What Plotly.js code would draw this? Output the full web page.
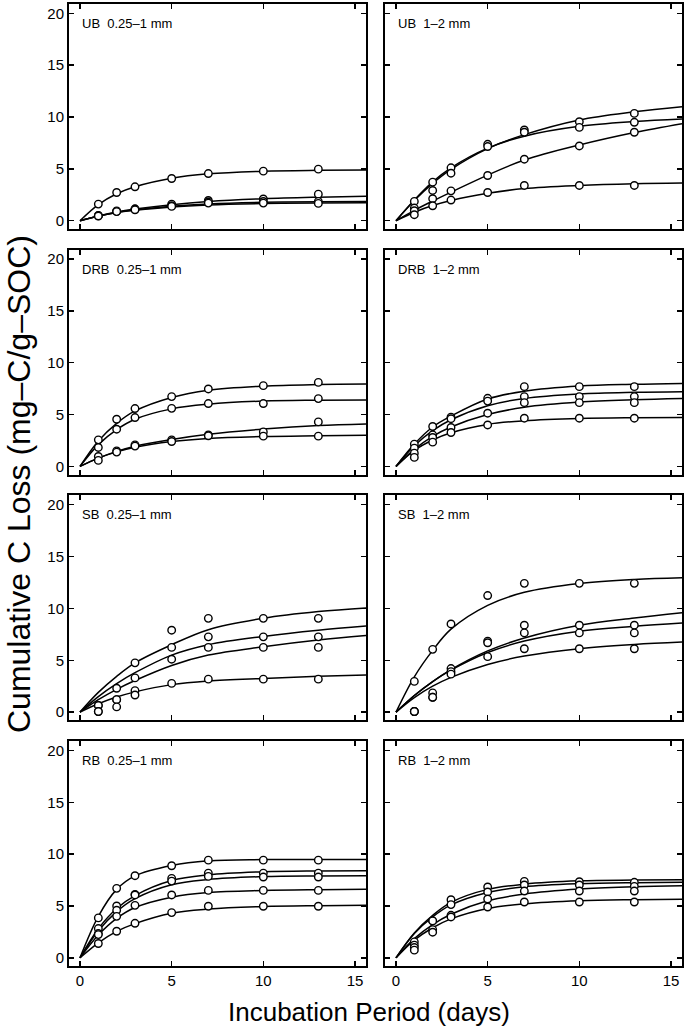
<!DOCTYPE html>
<html>
<head>
<meta charset="utf-8">
<script src="https://cdn.plot.ly/plotly-3.0.1.min.js"></script>
<style>html,body{margin:0;padding:0;background:#fff;}#chart{width:686px;height:1029px;}</style>
</head>
<body>
<div id="chart"></div>
<script>
// Sampling days of the measured points
const days = [1, 2, 3, 5, 7, 10, 13];
const fitDays = [0, 1, 2, 3, 5, 7, 10, 13, 15.6];

const xTicks = [0, 5, 10, 15];
const xTickText = ['0', '5', '10', '15'];
const yTicks = [0, 5, 10, 15, 20];
const yTickText = ['0', '5', '10', '15', '20'];

const panelLabels = [
  'UB\u00a0\u00a00.25\u20131 mm', 'UB\u00a0\u00a01\u20132 mm',
  'DRB\u00a0\u00a00.25\u20131 mm', 'DRB\u00a0\u00a01\u20132 mm',
  'SB\u00a0\u00a00.25\u20131 mm', 'SB\u00a0\u00a01\u20132 mm',
  'RB\u00a0\u00a00.25\u20131 mm', 'RB\u00a0\u00a01\u20132 mm'
];

// ---- UB 0.25–1 mm ----
const ub025Points = [
  [1.6, 2.72, 3.27, 4.07, 4.55, 4.78, 4.97],
  [0.5, 0.95, 1.15, 1.6, 1.95, 2.1, 2.56],
  [0.48, 0.9, 1.1, 1.45, 1.8, 1.85, 1.86],
  [0.45, 0.88, 1.05, 1.38, 1.7, 1.7, 1.67]
];
const ub025Fit = [
  [0, 1.55, 2.6, 3.28, 4.1, 4.52, 4.78, 4.86, 4.88],
  [0, 0.46, 0.84, 1.12, 1.55, 1.85, 2.12, 2.27, 2.36],
  [0, 0.44, 0.8, 1.05, 1.4, 1.62, 1.78, 1.84, 1.86],
  [0, 0.43, 0.78, 1.0, 1.33, 1.52, 1.65, 1.7, 1.73]
];
// ---- UB 1–2 mm ----
const ub12Points = [
  [1.86, 3.72, 5.1, 7.37, 8.75, 9.55, 10.35],
  [1.22, 2.92, 4.58, 7.15, 8.53, 9.0, 9.49],
  [0.96, 2.12, 2.88, 4.36, 5.93, 7.21, 8.53],
  [0.58, 1.44, 1.99, 2.72, 3.4, 3.4, 3.4]
];
const ub12Fit = [
  [0, 1.95, 3.6, 4.95, 6.95, 8.3, 9.72, 10.5, 11.0],
  [0, 2.0, 3.75, 5.1, 7.0, 8.15, 9.1, 9.56, 9.8],
  [0, 1.0, 1.9, 2.75, 4.4, 5.85, 7.3, 8.5, 9.36],
  [0, 0.82, 1.46, 1.95, 2.64, 3.1, 3.4, 3.56, 3.63]
];
// ---- DRB 0.25–1 mm ----
const drb025Points = [
  [2.56, 4.55, 5.58, 6.73, 7.47, 7.79, 8.1],
  [1.83, 3.59, 4.71, 5.6, 6.06, 6.06, 6.54],
  [0.96, 1.5, 2.08, 2.56, 3.04, 3.33, 4.29],
  [0.58, 1.38, 1.96, 2.4, 2.95, 2.92, 2.92]
];
const drb025Fit = [
  [0, 2.45, 4.15, 5.35, 6.65, 7.35, 7.75, 7.9, 7.95],
  [0, 2.1, 3.55, 4.55, 5.55, 6.0, 6.3, 6.38, 6.41],
  [0, 0.8, 1.45, 1.95, 2.6, 3.1, 3.6, 3.95, 4.1],
  [0, 0.8, 1.4, 1.85, 2.4, 2.7, 2.88, 2.95, 3.0]
];
// ---- DRB 1–2 mm ----
const drb12Points = [
  [2.15, 3.85, 4.75, 6.57, 7.69, 7.69, 7.69],
  [1.76, 3.04, 4.6, 6.3, 6.73, 6.73, 6.73],
  [1.28, 2.79, 3.75, 5.13, 6.15, 6.15, 6.15],
  [0.87, 2.34, 3.27, 4.0, 4.65, 4.65, 4.65]
];
const drb12Fit = [
  [0, 2.15, 3.8, 4.85, 6.5, 7.25, 7.75, 7.92, 8.0],
  [0, 2.0, 3.45, 4.5, 5.85, 6.55, 6.98, 7.14, 7.2],
  [0, 1.65, 2.9, 3.8, 5.0, 5.7, 6.2, 6.43, 6.55],
  [0, 1.55, 2.55, 3.25, 4.05, 4.4, 4.62, 4.69, 4.71]
];
// ---- SB 0.25–1 mm ----
const sb025Points = [
  [0.64, 2.3, 4.75, 7.9, 9.04, 9.04, 9.04],
  [0.64, 1.2, 3.3, 6.24, 7.26, 7.26, 7.26],
  [0.06, 1.2, 2.07, 5.1, 6.24, 6.24, 6.24],
  [0.06, 0.5, 1.65, 2.77, 3.18, 3.18, 3.18]
];
const sb025Fit = [
  [0, 1.9, 3.45, 4.75, 6.5, 7.95, 9.05, 9.7, 10.05],
  [0, 1.5, 2.75, 3.8, 5.5, 6.5, 7.3, 7.9, 8.3],
  [0, 1.2, 2.2, 3.05, 4.5, 5.5, 6.3, 6.95, 7.38],
  [0, 0.8, 1.45, 1.95, 2.65, 3.0, 3.25, 3.45, 3.57]
];
// ---- SB 1–2 mm ----
const sb12Points = [
  [2.96, 6.05, 8.5, 11.24, 12.42, 12.42, 12.42],
  [0.06, 1.85, 4.2, 6.85, 8.38, 8.38, 8.38],
  [0.06, 1.43, 3.9, 6.69, 7.64, 7.64, 7.64],
  [0.06, 1.43, 3.66, 5.35, 6.11, 6.11, 6.11]
];
const sb12Fit = [
  [0, 3.4, 5.95, 8.0, 10.3, 11.55, 12.4, 12.8, 12.96],
  [0, 1.6, 2.95, 4.1, 5.9, 7.15, 8.38, 9.08, 9.59],
  [0, 1.6, 2.95, 4.05, 5.75, 6.85, 7.8, 8.28, 8.6],
  [0, 1.4, 2.5, 3.35, 4.6, 5.4, 6.12, 6.52, 6.75]
];
// ---- RB 0.25–1 mm ----
const rb025Points = [
  [3.85, 6.7, 7.92, 8.88, 9.42, 9.42, 9.42],
  [2.82, 5.0, 6.12, 7.66, 8.17, 8.17, 8.17],
  [2.34, 4.58, 6.06, 7.4, 7.85, 7.79, 7.79],
  [2.24, 4.0, 5.06, 6.06, 6.5, 6.5, 6.5],
  [1.38, 2.56, 3.33, 4.36, 4.97, 4.97, 4.97]
];
const rb025Fit = [
  [0, 4.0, 6.6, 7.9, 8.9, 9.35, 9.47, 9.49, 9.49],
  [0, 2.8, 4.75, 6.0, 7.45, 8.0, 8.3, 8.38, 8.4],
  [0, 2.6, 4.45, 5.7, 7.05, 7.55, 7.83, 7.9, 7.92],
  [0, 2.2, 3.8, 4.85, 5.85, 6.3, 6.5, 6.57, 6.6],
  [0, 1.45, 2.55, 3.3, 4.3, 4.7, 4.95, 5.03, 5.06]
];
// ---- RB 1–2 mm ----
const rb12Points = [
  [1.54, 3.56, 5.6, 6.83, 7.37, 7.34, 7.28],
  [1.22, 3.56, 5.13, 6.35, 7.02, 7.02, 6.89],
  [0.99, 2.72, 4.1, 5.67, 6.44, 6.44, 6.44],
  [0.74, 2.47, 3.94, 4.9, 5.38, 5.38, 5.38]
];
const rb12Fit = [
  [0, 2.4, 4.1, 5.35, 6.6, 7.1, 7.42, 7.5, 7.53],
  [0, 2.35, 3.95, 5.1, 6.3, 6.85, 7.15, 7.25, 7.28],
  [0, 1.85, 3.2, 4.2, 5.5, 6.15, 6.63, 6.85, 6.96],
  [0, 1.7, 2.9, 3.75, 4.75, 5.2, 5.5, 5.6, 5.64]
];

const panelPoints = [ub025Points, ub12Points, drb025Points, drb12Points, sb025Points, sb12Points, rb025Points, rb12Points];
const panelFits = [ub025Fit, ub12Fit, drb025Fit, drb12Fit, sb025Fit, sb12Fit, rb025Fit, rb12Fit];

// ---- layout geometry (pixels) ----
const W = 686, H = 1029;
const colX = [[69, 366], [385, 682]];
const rowY = [[4, 229], [249.7, 474.7], [495.4, 720.4], [741.1, 966.1]];
const FONT = 'Liberation Sans, Arial, Helvetica, sans-serif';

const traces = [];
const layout = {
  width: W, height: H, autosize: false,
  margin: {l: 0, r: 0, t: 0, b: 0, pad: 0},
  paper_bgcolor: '#fff', plot_bgcolor: '#fff',
  showlegend: false,
  font: {family: FONT, color: '#000'},
  annotations: []
};

for (let p = 0; p < 8; p++) {
  const row = Math.floor(p / 2), col = p % 2;
  const n = p + 1;
  const xa = n === 1 ? 'xaxis' : 'xaxis' + n;
  const ya = n === 1 ? 'yaxis' : 'yaxis' + n;
  const xr = n === 1 ? 'x' : 'x' + n;
  const yr = n === 1 ? 'y' : 'y' + n;
  const common = {
    showline: true, linecolor: '#000', linewidth: 2, mirror: 'ticks',
    ticks: 'inside', ticklen: 5, tickwidth: 1.5, tickcolor: '#000',
    showgrid: false, zeroline: false, fixedrange: true,
    tickfont: {family: FONT, size: 15, color: '#000'}
  };
  layout[xa] = Object.assign({}, common, {
    domain: [colX[col][0] / W, colX[col][1] / W],
    range: [-0.6, 15.6], anchor: yr,
    tickmode: 'array', tickvals: xTicks, ticktext: xTickText,
    showticklabels: row === 3
  });
  layout[ya] = Object.assign({}, common, {
    domain: [1 - rowY[row][1] / H, 1 - rowY[row][0] / H],
    range: [-0.8, 20.9], anchor: xr,
    tickmode: 'array', tickvals: yTicks, ticktext: yTickText,
    showticklabels: col === 0
  });

  panelFits[p].forEach(f => {
    traces.push({
      x: fitDays, y: f, xaxis: xr, yaxis: yr, type: 'scatter', mode: 'lines',
      line: {color: '#000', width: 1.5, shape: 'spline', smoothing: 1},
      hoverinfo: 'skip'
    });
  });
  panelPoints[p].forEach(s => {
    traces.push({
      x: days, y: s, xaxis: xr, yaxis: yr, type: 'scatter', mode: 'markers',
      marker: {symbol: 'circle', size: 7.5, color: '#fff', line: {color: '#000', width: 1.4}},
      cliponaxis: false
    });
  });

  layout.annotations.push({
    xref: xr + ' domain', yref: yr + ' domain',
    x: 0.038, y: 1 - 19.3 / 225, xanchor: 'left', yanchor: 'middle',
    text: panelLabels[p], showarrow: false,
    font: {family: FONT, size: 13, color: '#000'}
  });
}

layout.annotations.push({
  xref: 'paper', yref: 'paper', x: 369 / W, y: 1 - 1012 / H,
  xanchor: 'center', yanchor: 'middle', showarrow: false,
  text: 'Incubation Period (days)',
  font: {family: FONT, size: 26, color: '#000'}
});
layout.annotations.push({
  xref: 'paper', yref: 'paper', x: 19 / W, y: 1 - 484 / H,
  xanchor: 'center', yanchor: 'middle', showarrow: false, textangle: -90,
  text: 'Cumulative C Loss (mg\u2013C/g\u2013SOC)',
  font: {family: FONT, size: 32, color: '#000'}
});

Plotly.newPlot('chart', traces, layout, {staticPlot: true, displayModeBar: false});
</script>
</body>
</html>
